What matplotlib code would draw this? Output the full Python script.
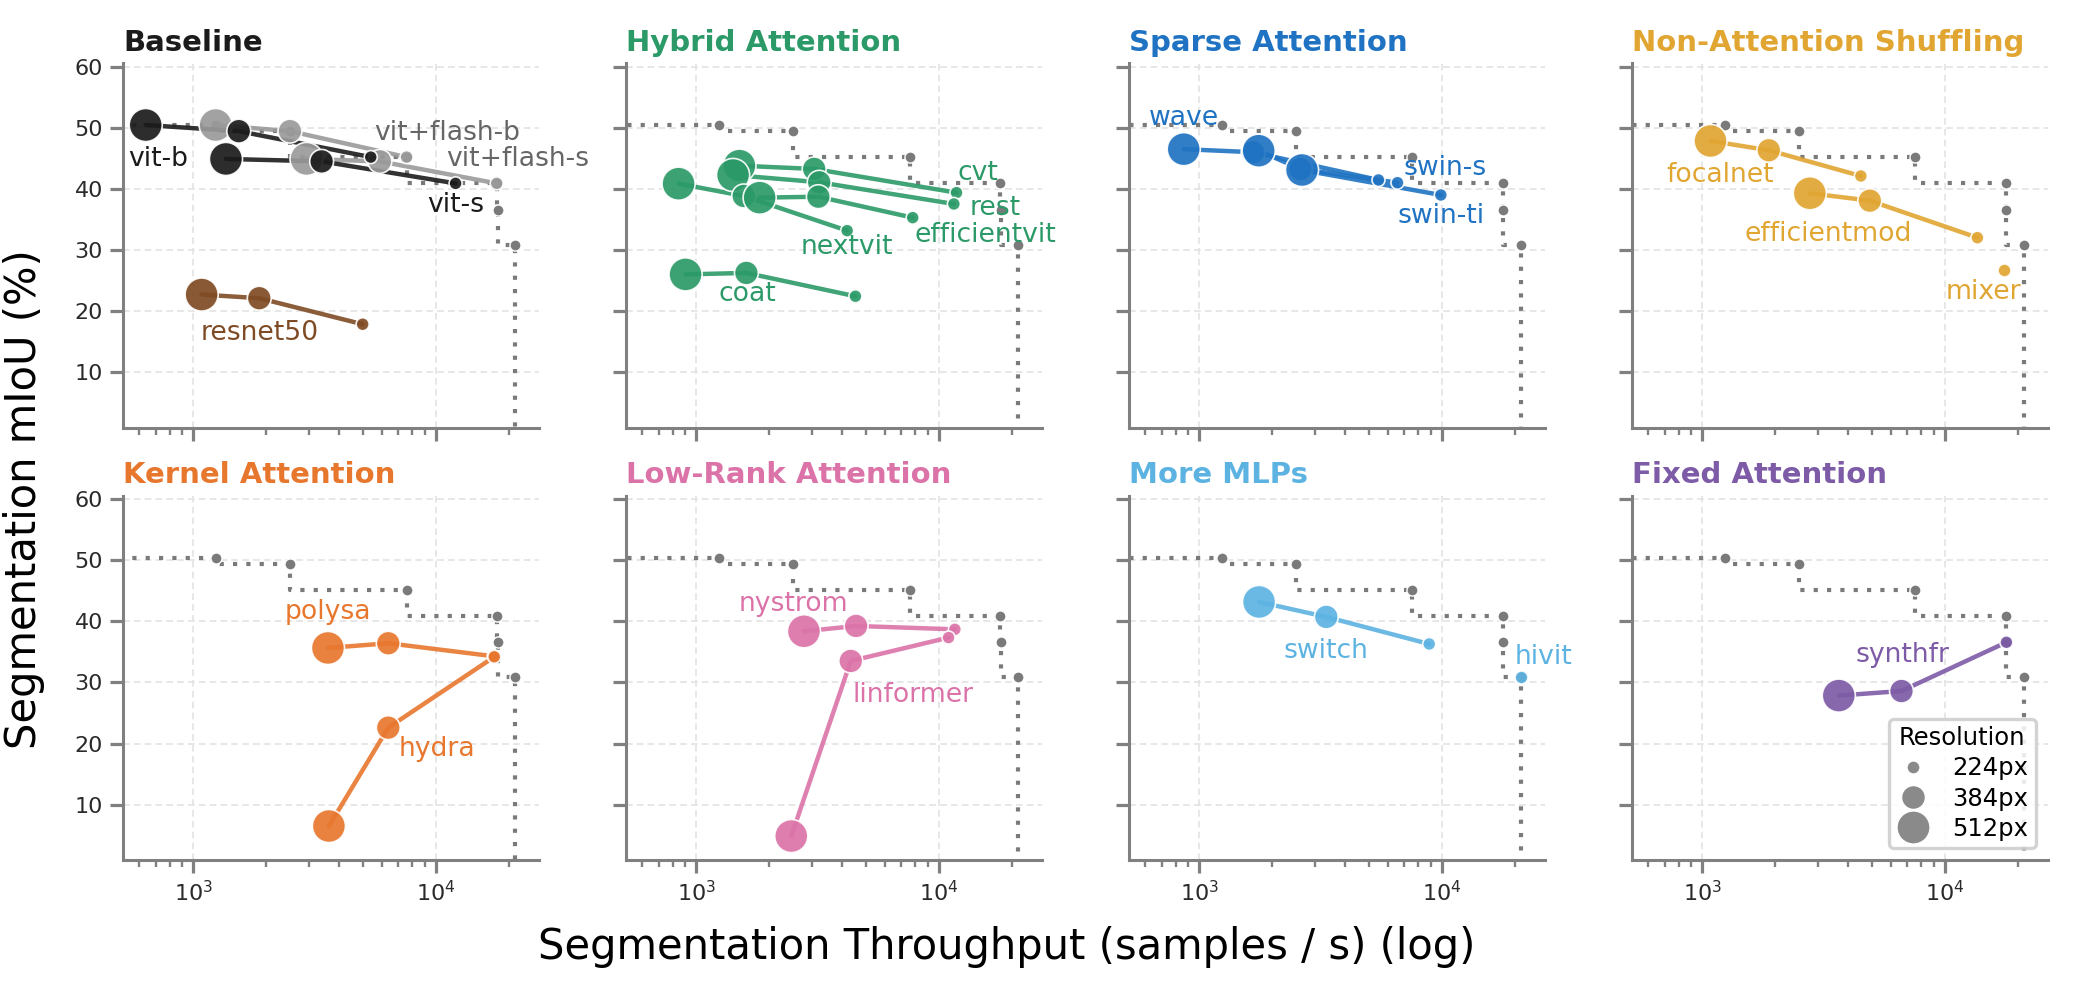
import matplotlib
matplotlib.use("Agg")
import matplotlib.pyplot as plt
from matplotlib.lines import Line2D
from matplotlib.ticker import LogLocator, NullFormatter

# ---------------- categories ----------------
panel_titles = ["Baseline", "Hybrid Attention", "Sparse Attention", "Non-Attention Shuffling",
                "Kernel Attention", "Low-Rank Attention", "More MLPs", "Fixed Attention"]
panel_colors = ["#1b1b1b", "#2b9a68", "#1f73c2", "#e1a532",
                "#e8772e", "#db73a8", "#5cb3e2", "#7d5ba6"]

res_values = [224, 384, 512]
res_labels = ["224px", "384px", "512px"]

res3 = [512, 384, 224]
res2 = [512, 224]
res1 = [224]

# ---------------- series (throughput samples/s, mIoU %) ----------------
# Baseline
vit_b_tp = [637, 1540, 5390]
vit_b_miou = [50.45, 49.45, 45.2]
vit_flash_b_tp = [1237, 2503, 7568]
vit_flash_b_miou = [50.45, 49.45, 45.2]
vit_s_tp = [1364, 3381, 12050]
vit_s_miou = [44.9, 44.5, 40.9]
vit_flash_s_tp = [2930, 5875, 17800]
vit_flash_s_miou = [44.9, 44.5, 40.9]
resnet50_tp = [1083, 1871, 4989]
resnet50_miou = [22.7, 22.1, 17.84]
# Hybrid Attention
cvt_tp = [1507, 3063, 11820]
cvt_miou = [43.8, 43.26, 39.38]
rest_tp = [1419, 3213, 11530]
rest_miou = [42.27, 41.08, 37.53]
nextvit_tp = [846, 1570, 4188]
nextvit_miou = [40.85, 38.84, 33.16]
efficientvit_tp = [1826, 3187, 7800]
efficientvit_miou = [38.56, 38.72, 35.29]
coat_tp = [904, 1610, 4530]
coat_miou = [26.0, 26.24, 22.42]
# Sparse Attention
wave_tp = [864, 1668, 5483]
wave_miou = [46.5, 46.0, 41.46]
swin_s_tp = [1759, 2612, 6566]
swin_s_miou = [46.25, 43.26, 41.01]
swin_ti_tp = [2654, 9906]
swin_ti_miou = [43.09, 39.0]
# Non-Attention Shuffling
focalnet_tp = [1083, 1883, 4510]
focalnet_miou = [47.84, 46.32, 42.11]
efficientmod_tp = [2779, 4910, 13630]
efficientmod_miou = [39.28, 38.07, 32.01]
mixer_tp = [17500]
mixer_miou = [26.73]
# Kernel Attention
polysa_tp = [3590, 6363, 17300]
polysa_miou = [35.65, 36.42, 34.29]
hydra_tp = [3623, 6363, 17400]
hydra_miou = [6.5, 22.6, 34.2]
# Low-Rank Attention
nystrom_tp = [2780, 4560, 11640]
nystrom_miou = [38.38, 39.25, 38.7]
linformer_tp = [2465, 4335, 10960]
linformer_miou = [4.86, 33.52, 37.35]
# More MLPs
switch_tp = [1766, 3342, 8871]
switch_miou = [43.18, 40.73, 36.3]
hivit_tp = [21270]
hivit_miou = [30.85]
# Fixed Attention
synthfr_tp = [3658, 6630, 17950]
synthfr_miou = [27.85, 28.6, 36.58]

# (name, panel index, resolutions, throughput, miou)
models = [
    ("vit+flash-b", 0, res3, vit_flash_b_tp, vit_flash_b_miou),
    ("vit+flash-s", 0, res3, vit_flash_s_tp, vit_flash_s_miou),
    ("vit-b", 0, res3, vit_b_tp, vit_b_miou),
    ("vit-s", 0, res3, vit_s_tp, vit_s_miou),
    ("resnet50", 0, res3, resnet50_tp, resnet50_miou),
    ("cvt", 1, res3, cvt_tp, cvt_miou),
    ("rest", 1, res3, rest_tp, rest_miou),
    ("nextvit", 1, res3, nextvit_tp, nextvit_miou),
    ("efficientvit", 1, res3, efficientvit_tp, efficientvit_miou),
    ("coat", 1, res3, coat_tp, coat_miou),
    ("wave", 2, res3, wave_tp, wave_miou),
    ("swin-s", 2, res3, swin_s_tp, swin_s_miou),
    ("swin-ti", 2, res2, swin_ti_tp, swin_ti_miou),
    ("focalnet", 3, res3, focalnet_tp, focalnet_miou),
    ("efficientmod", 3, res3, efficientmod_tp, efficientmod_miou),
    ("mixer", 3, res1, mixer_tp, mixer_miou),
    ("polysa", 4, res3, polysa_tp, polysa_miou),
    ("hydra", 4, res3, hydra_tp, hydra_miou),
    ("nystrom", 5, res3, nystrom_tp, nystrom_miou),
    ("linformer", 5, res3, linformer_tp, linformer_miou),
    ("switch", 6, res3, switch_tp, switch_miou),
    ("hivit", 6, res1, hivit_tp, hivit_miou),
    ("synthfr", 7, res3, synthfr_tp, synthfr_miou),
]

# ---------------- styling / layout (not data) ----------------
special_colors = {"vit+flash-b": "#9a9a9a", "vit+flash-s": "#9a9a9a",
                  "resnet50": "#7f4b24"}
special_text = {"vit+flash-b": "#666666", "vit+flash-s": "#666666",
                "resnet50": "#7f4b24"}
label_pos = {
    "vit-b": (716, 44.84), "vit+flash-b": (11090, 49.1), "vit+flash-s": (21680, 44.9),
    "vit-s": (12090, 37.4), "resnet50": (1877, 16.4),
    "cvt": (14500, 42.55), "rest": (17100, 36.8), "efficientvit": (15560, 32.45),
    "nextvit": (4197, 30.44), "coat": (1621, 22.8),
    "wave": (864, 51.55), "swin-s": (10320, 43.37), "swin-ti": (9934, 35.56),
    "focalnet": (1183, 42.27), "efficientmod": (3304, 32.57), "mixer": (14380, 23.17),
    "polysa": (3578, 41.55), "hydra": (10130, 19.06),
    "nystrom": (2518, 42.9), "linformer": (7797, 27.9),
    "switch": (3342, 35.16), "hivit": (26360, 34.2),
    "synthfr": (6670, 34.45),
}
size_map = {224: 22, 384: 74, 512: 142}
legend_ms = {224: 4.7, 384: 8.6, 512: 11.9}
FRONT = "#7a7a7a"
SPINE = "#808080"

plt.rcParams["font.family"] = ["DejaVu Sans"]

fig, axes = plt.subplots(2, 4, figsize=(10.38, 4.995), dpi=200, sharex=True, sharey=True)
fig.subplots_adjust(left=0.0592, right=0.9864, bottom=0.1391, top=0.9366,
                    wspace=0.209, hspace=0.1876)
axes = axes.ravel()

# Pareto frontier over all models
pts = []
for name, p, res, tp, mi in models:
    pts.extend(zip(tp, mi))
pts.sort(key=lambda t: -t[0])
front = []
best = -1e9
for x, y in pts:
    if y > best:
        front.append((x, y))
        best = y
front.sort()
fx = [p[0] for p in front]
fy = [p[1] for p in front]
step_x = [100] + fx + [fx[-1]]
step_y = [fy[0]] + fy + [-10]

for i, ax in enumerate(axes):
    ax.set_xscale("log")
    ax.set_xlim(513, 26570)
    ax.set_ylim(0.93, 60.55)
    ax.set_yticks([10, 20, 30, 40, 50, 60])
    ax.xaxis.set_major_locator(LogLocator(base=10))
    ax.xaxis.set_minor_locator(LogLocator(base=10, subs=range(2, 10)))
    ax.xaxis.set_minor_formatter(NullFormatter())
    ax.grid(True, which="major", color="#e3e3e3", ls=(0, (4, 2.5)), lw=0.6, zorder=0)
    ax.set_axisbelow(True)
    for s in ["top", "right"]:
        ax.spines[s].set_visible(False)
    for s in ["left", "bottom"]:
        ax.spines[s].set_color(SPINE)
        ax.spines[s].set_linewidth(1.1)
    ax.tick_params(which="major", length=4.8, width=1.15, color=SPINE,
                   labelcolor="#2a2a2a", labelsize=8, pad=2.4)
    ax.tick_params(which="minor", length=2.5, width=0.85, color=SPINE)
    ax.set_title(panel_titles[i], loc="left", fontsize=10.5, fontweight="bold",
                 color=panel_colors[i], pad=4.5)
    # frontier
    ax.plot(step_x, step_y, drawstyle="steps-pre", color=FRONT, lw=1.5,
            ls=(0, (1, 2.2)), zorder=1)
    ax.scatter(fx, fy, s=16, color=FRONT, edgecolor="white", linewidth=0.5, zorder=1.5)

# lines first, then markers
for name, p, res, tp, mi in models:
    c = special_colors.get(name, panel_colors[p])
    axes[p].plot(tp, mi, color=c, lw=1.6, alpha=0.9, zorder=2, solid_capstyle="round")
for name, p, res, tp, mi in models:
    c = special_colors.get(name, panel_colors[p])
    axes[p].scatter(tp, mi, s=[size_map[r] for r in res], color=c, alpha=0.92,
                    edgecolor="white", linewidth=0.6, zorder=3)
    tc = special_text.get(name, panel_colors[p])
    lx, ly = label_pos[name]
    axes[p].text(lx, ly, name, color=tc, fontsize=9.6, ha="center", va="center", zorder=4)

handles = [Line2D([], [], marker="o", ls="", color="#8a8a8a", markersize=legend_ms[r],
                  markeredgecolor="white", markeredgewidth=0.5) for r in res_values]
leg = axes[7].legend(handles, res_labels, title="Resolution", loc="lower right",
                     fontsize=8.75, title_fontsize=8.75, borderaxespad=0.5,
                     labelspacing=0.25, handlelength=1.4, handletextpad=0.9,
                     borderpad=0.3, edgecolor="#cccccc", framealpha=0.85)
leg.get_frame().set_linewidth(1.2)

fig.text(0.485, 0.052, "Segmentation Throughput (samples / s) (log)", ha="center",
         va="center", fontsize=15)
fig.text(0.0116, 0.5, "Segmentation mIoU (%)", ha="center", va="center",
         rotation=90, fontsize=15)

fig.savefig("out.png", dpi=200)
